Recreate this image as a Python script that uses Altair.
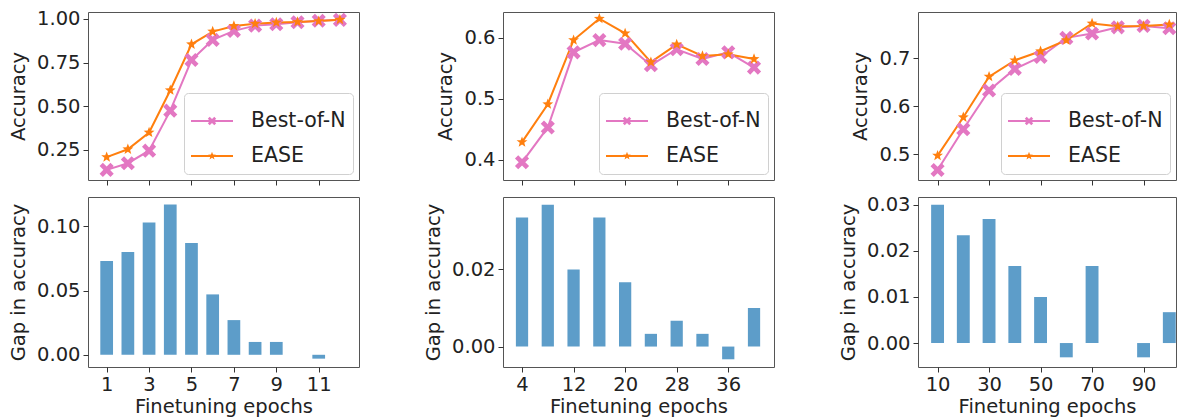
import math
import altair as alt
import pandas as pd

# ---------------- data ----------------
SERIES = ["Best-of-N", "EASE"]

p1_epochs = [1, 2, 3, 4, 5, 6, 7, 8, 9, 10, 11, 12]
p1_bon = [0.136, 0.174, 0.246, 0.475, 0.765, 0.880, 0.932, 0.962, 0.970, 0.981, 0.990, 0.995]
p1_ease = [0.209, 0.254, 0.350, 0.592, 0.855, 0.928, 0.960, 0.973, 0.980, 0.983, 0.988, 0.996]
p1_gap = [0.073, 0.080, 0.103, 0.117, 0.087, 0.047, 0.027, 0.010, 0.010, 0.0, -0.003, 0.0]

p2_epochs = [4, 8, 12, 16, 20, 24, 28, 32, 36, 40]
p2_bon = [0.396, 0.453, 0.576, 0.596, 0.590, 0.555, 0.581, 0.565, 0.576, 0.551]
p2_ease = [0.429, 0.491, 0.596, 0.631, 0.607, 0.560, 0.589, 0.570, 0.573, 0.565]
p2_gap = [0.0335, 0.0368, 0.0200, 0.0335, 0.0167, 0.0033, 0.0067, 0.0033, -0.0033, 0.0100]

p3_epochs = [10, 20, 30, 40, 50, 60, 70, 80, 90, 100]
p3_bon = [0.467, 0.552, 0.633, 0.678, 0.703, 0.743, 0.752, 0.765, 0.768, 0.763]
p3_ease = [0.497, 0.577, 0.662, 0.696, 0.715, 0.738, 0.773, 0.767, 0.768, 0.771]
p3_gap = [0.0300, 0.0234, 0.0269, 0.0167, 0.0100, -0.0031, 0.0167, 0.0, -0.0031, 0.0067]

p1_xticks = [1, 3, 5, 7, 9, 11]
p2_xticks = [4, 12, 20, 28, 36]
p3_xticks = [10, 30, 50, 70, 90]

p1_yticks_top = [0.25, 0.50, 0.75, 1.00]
p2_yticks_top = [0.4, 0.5, 0.6]
p3_yticks_top = [0.5, 0.6, 0.7]
p1_yticks_bot = [0.00, 0.05, 0.10]
p2_yticks_bot = [0.00, 0.02]
p3_yticks_bot = [0.00, 0.01, 0.02, 0.03]

# ---------------- styles ----------------
PINK = "#e377c2"
ORANGE = "#ff7f0e"
BAR = "#1f77b4"
FONT = "DejaVu Sans"
FS = 19.5
W = 271
W3 = 258
H_TOP = 168
H_BOT = 170


def poly(pts):
    return "M" + "L".join(f"{x:.3f},{y:.3f}" for x, y in pts) + "Z"


def x_marker(scale=1.0, a=0.3):
    base = [(-a, -1), (a, -1), (a, -a), (1, -a), (1, a), (a, a), (a, 1), (-a, 1),
            (-a, a), (-1, a), (-1, -a), (-a, -a)]
    s2 = math.sqrt(2)
    norm = (1 + a) / s2
    return [(((x - y) / s2) / norm * scale, ((x + y) / s2) / norm * scale) for x, y in base]


def star_marker(scale=1.0, inner=0.42):
    pts = []
    for i in range(10):
        ang = -math.pi / 2 + i * math.pi / 5
        r = 1.0 if i % 2 == 0 else inner
        pts.append((r * math.cos(ang) * scale, r * math.sin(ang) * scale))
    return pts


X_PATH = poly(x_marker())
STAR_PATH = poly(star_marker())
LINE_RECT = "M-1,-0.045L1,-0.045L1,0.045L-1,0.045Z"
LEG_X = LINE_RECT + poly(x_marker(0.2))
LEG_STAR = LINE_RECT + poly(star_marker(0.2))


def top_panel(epochs, bon, ease, xdom, ydom, xticks, yticks, yfmt, width):
    df = pd.DataFrame({
        "epoch": epochs * 2,
        "acc": bon + ease,
        "series": [SERIES[0]] * len(epochs) + [SERIES[1]] * len(epochs),
    })
    x = alt.X("epoch:Q", scale=alt.Scale(domain=xdom, nice=False, zero=False),
              axis=alt.Axis(values=xticks, labels=False, title=None, ticks=True))
    y = alt.Y("acc:Q", scale=alt.Scale(domain=ydom, nice=False, zero=False),
              axis=alt.Axis(values=yticks, format=yfmt, title="Accuracy"))
    base = alt.Chart(df)
    bon_f = alt.datum.series == SERIES[0]
    ease_f = alt.datum.series == SERIES[1]
    line_b = base.transform_filter(bon_f).mark_line(color=PINK, strokeWidth=2).encode(x=x, y=y)
    line_e = base.transform_filter(ease_f).mark_line(color=ORANGE, strokeWidth=2).encode(x=x, y=y)
    pt_b = base.transform_filter(bon_f).mark_point(shape=X_PATH, filled=True, size=200,
                                                   color=PINK, opacity=1).encode(x=x, y=y)
    pt_e = base.transform_filter(ease_f).mark_point(shape=STAR_PATH, filled=True, size=130,
                                                    color=ORANGE, opacity=1).encode(x=x, y=y)
    leg = base.transform_filter("false").mark_point(filled=True, opacity=1).encode(
        x=x, y=y,
        color=alt.Color("series:N", scale=alt.Scale(domain=SERIES, range=[PINK, ORANGE]),
                        legend=alt.Legend(title=None)),
        shape=alt.Shape("series:N", scale=alt.Scale(domain=SERIES, range=[LEG_X, LEG_STAR]),
                        legend=alt.Legend(title=None)),
    )
    return alt.layer(line_b, line_e, pt_b, pt_e, leg).properties(width=width, height=H_TOP)


def bot_panel(epochs, gap, xdom, ydom, xticks, yticks, half, width):
    df = pd.DataFrame({"epoch": epochs, "gap": gap})
    return alt.Chart(df).transform_calculate(
        x0=f"datum.epoch - {half}", x1=f"datum.epoch + {half}"
    ).mark_bar(color=BAR, opacity=0.72).encode(
        x=alt.X("x0:Q", scale=alt.Scale(domain=xdom, nice=False, zero=False),
                axis=alt.Axis(values=xticks, format="d", title="Finetuning epochs",
                              titlePadding=4)),
        x2="x1:Q",
        y=alt.Y("gap:Q", scale=alt.Scale(domain=ydom, nice=False, zero=False),
                axis=alt.Axis(values=yticks, format=".2f", title="Gap in accuracy")),
        y2=alt.datum(0),
    ).properties(width=width, height=H_BOT)


X1 = [0.12, 12.9]
X2 = [1.05, 43.1]
X3 = [2.4, 102.6]

t1 = top_panel(p1_epochs, p1_bon, p1_ease, X1, [0.078, 1.04], p1_xticks, p1_yticks_top, ".2f", W)
b1 = bot_panel(p1_epochs, p1_gap, X1, [-0.0095, 0.1228], p1_xticks, p1_yticks_bot, 0.3, W)
t2 = top_panel(p2_epochs, p2_bon, p2_ease, X2, [0.367, 0.642], p2_xticks, p2_yticks_top, ".1f", W)
b2 = bot_panel(p2_epochs, p2_gap, X2, [-0.0053, 0.0388], p2_xticks, p2_yticks_bot, 0.95, W)
t3 = top_panel(p3_epochs, p3_bon, p3_ease, X3, [0.446, 0.797], p3_xticks, p3_yticks_top, ".1f", W3)
b3 = bot_panel(p3_epochs, p3_gap, X3, [-0.0052, 0.0317], p3_xticks, p3_yticks_bot, 2.5, W3)

chart = alt.concat(
    t1, t2, t3, b1, b2, b3, columns=3, spacing={"row": 17, "column": 144}, bounds="flush"
).resolve_scale(
    color="independent", shape="independent"
).resolve_legend(
    color="independent", shape="independent"
).properties(
    padding={"left": 0, "top": 0, "right": 0, "bottom": 0}
).configure_view(
    stroke="#555", strokeWidth=1
).configure_axis(
    domain=False, grid=False, labelFont=FONT, labelFontSize=FS, labelColor="#222",
    tickColor="#333", tickSize=5, labelPadding=3, titleFont=FONT, titleFontSize=FS,
    titleFontWeight="normal", titleColor="#222", titlePadding=8, labelFlush=False,
    labelOverlap=False
).configure_legend(
    orient="bottom-right", offset=6, padding=7, fillColor="white", strokeColor="#d0d0d0",
    cornerRadius=4, labelFont=FONT, labelFontSize=20.5, labelColor="#222",
    symbolSize=1764, symbolStrokeWidth=0, labelOffset=18, rowPadding=3
)

chart.save("out.html", embed_options={"renderer": "svg", "actions": False})
